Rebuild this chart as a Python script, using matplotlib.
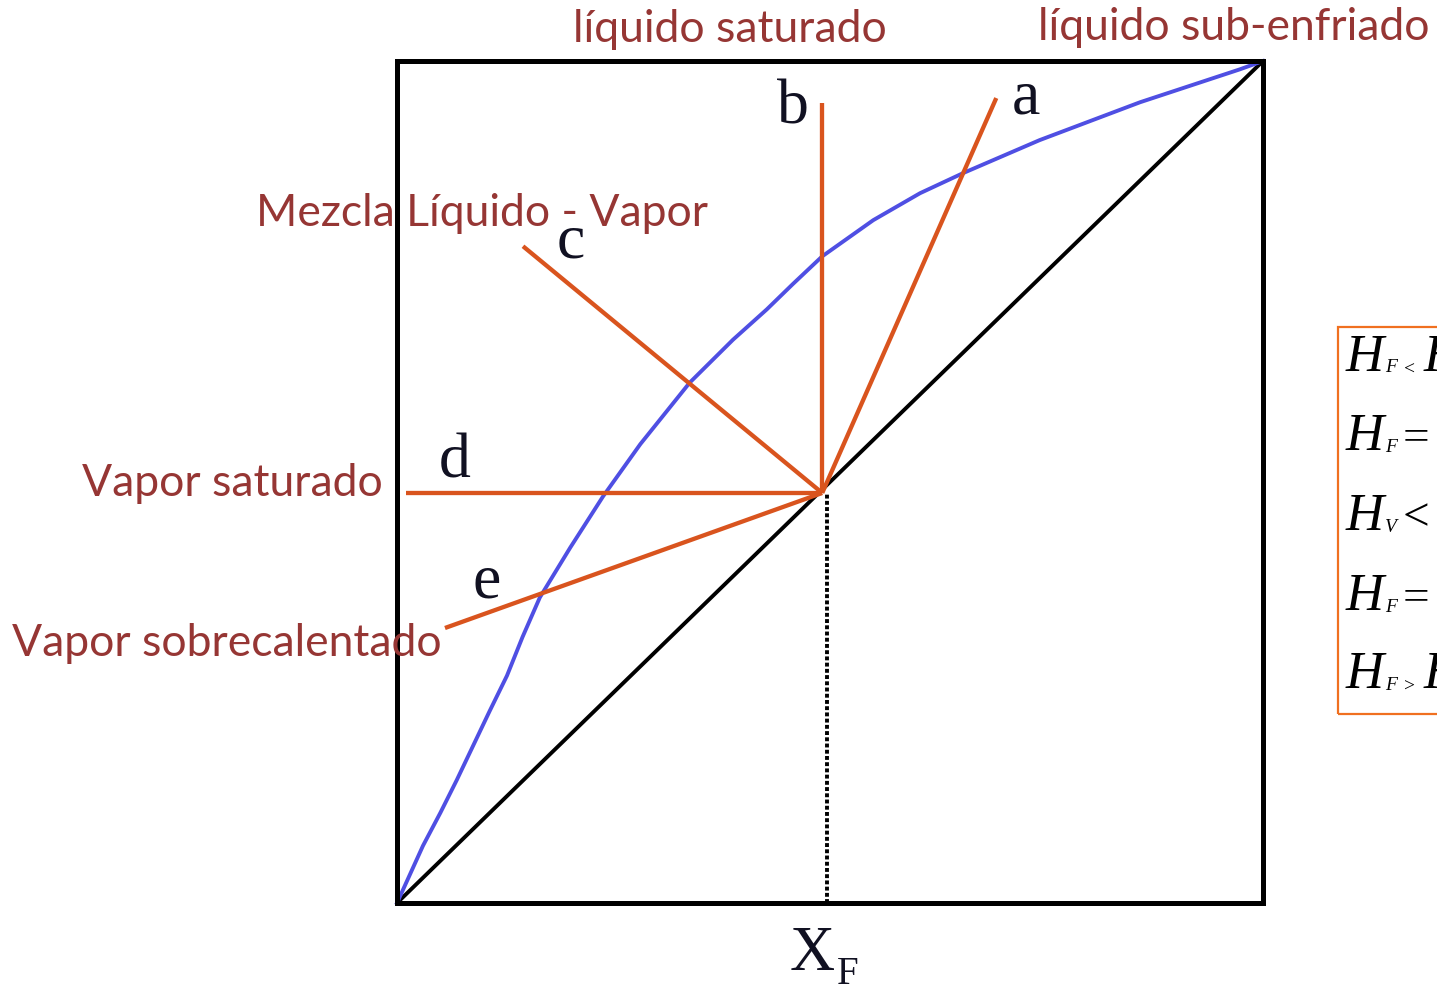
import matplotlib
matplotlib.use('Agg')
import matplotlib.pyplot as plt
from matplotlib.patches import Rectangle

W, H = 1437, 993

# equilibrium curve, points (x, y in mole fraction)
eq_x = [0.0, 0.030, 0.050, 0.069, 0.088, 0.107, 0.127, 0.145, 0.165, 0.200, 0.238, 0.281,
        0.338, 0.388, 0.427, 0.457, 0.491, 0.550, 0.604, 0.654, 0.742, 0.858, 0.973, 1.0]
eq_y = [0.0, 0.068, 0.107, 0.146, 0.187, 0.228, 0.270, 0.316, 0.363, 0.422, 0.483, 0.545,
        0.618, 0.669, 0.705, 0.735, 0.768, 0.811, 0.843, 0.867, 0.906, 0.951, 0.990, 1.0]

# feed point and q-line far ends
x_feed = 0.491
y_feed = 0.487
x_drop = 0.496
q_names = ['a', 'b', 'c', 'd', 'e']
q_end_x = [0.692, 0.491, 0.1455, 0.0104, 0.0554]
q_end_y = [0.956, 0.950, 0.780, 0.487, 0.3266]

condition_labels = ['líquido sub-enfriado', 'líquido saturado', 'Mezcla Líquido - Vapor',
                    'Vapor saturado', 'Vapor sobrecalentado']

# enthalpy box rows (cut by the right edge in the original)
row_sub = ['F', 'F', 'V', 'F', 'F']
row_sign = ['<', '=', '<', '=', '>']
row_small_sign = [True, False, False, False, True]
row_rest = ['H', 'H', 'H', 'H', 'H']

fig = plt.figure(figsize=(W / 100, H / 100), dpi=100)
fig.patch.set_facecolor('white')


def fx(p):
    return p / W


def fy(p):
    return 1 - p / H


ax = fig.add_axes([fx(397), fy(903), (1263 - 397) / W, (903 - 61) / H])
ax.set_xlim(0, 1)
ax.set_ylim(0, 1)
ax.set_xticks([])
ax.set_yticks([])
for s in ax.spines.values():
    s.set_linewidth(3.6)
    s.set_color('black')

orange = '#D9541E'
ax.plot([0, 1], [0, 1], color='black', lw=2.8, solid_capstyle='butt')
ax.plot(eq_x, eq_y, color='#4F4FE3', lw=2.8, clip_on=False, solid_joinstyle='round')
ax.plot([x_drop, x_drop], [0, y_feed], color='black', lw=2.8, linestyle=(0, (1, 0.6)))
for i in range(len(q_names)):
    ax.plot([x_feed, q_end_x[i]], [y_feed, q_end_y[i]], color=orange, lw=3.1,
            solid_capstyle='butt')

# letters for q-lines
letter_pos = {'a': (1026, 98), 'b': (793, 108), 'c': (571, 243), 'd': (455, 462), 'e': (487, 582)}
for n in q_names:
    px, py = letter_pos[n]
    fig.text(fx(px), fy(py), n, fontsize=46, family='Liberation Serif', color='#111122',
             ha='center', va='center')

# condition labels
dark_red = '#963634'
label_pos = [(1234, 28), (730, 30), (482, 213), (232, 483), (227, 643)]
for lab, (px, py) in zip(condition_labels, label_pos):
    fig.text(fx(px), fy(py), lab, fontsize=32, family='Lato', color=dark_red,
             ha='center', va='center')

# X_F label
fig.text(fx(812), fy(955), 'X', fontsize=45, family='Liberation Serif', color='#111122',
         ha='center', va='center')
fig.text(fx(848), fy(975), 'F', fontsize=28, family='Liberation Serif', color='#111122',
         ha='center', va='center')

# enthalpy box
fig.patches.append(Rectangle((fx(1338), fy(714)), (1500 - 1338) / W, (714 - 327) / H,
                             transform=fig.transFigure, fill=False, edgecolor='#F07020',
                             lw=1.6, figure=fig))
row_y = [358, 437, 517, 597, 675]
serif_it = dict(family='Liberation Serif', style='italic', color='black')
for i, py in enumerate(row_y):
    fig.text(fx(1346), fy(py), 'H', fontsize=38, ha='left', va='center', **serif_it)
    fig.text(fx(1385), fy(py + 10), row_sub[i], fontsize=14, ha='left', va='center', **serif_it)
    if row_small_sign[i]:
        fig.text(fx(1404), fy(py + 12), row_sign[i], fontsize=14, ha='left', va='center',
                 family='Liberation Serif', color='black')
        fig.text(fx(1424), fy(py), row_rest[i], fontsize=38, ha='left', va='center', **serif_it)
    else:
        fig.text(fx(1403), fy(py + 2), row_sign[i], fontsize=34, ha='left', va='center',
                 family='Liberation Serif', color='black')
        fig.text(fx(1450), fy(py), row_rest[i], fontsize=38, ha='left', va='center', **serif_it)

fig.savefig('out.png', dpi=100, facecolor='white')
